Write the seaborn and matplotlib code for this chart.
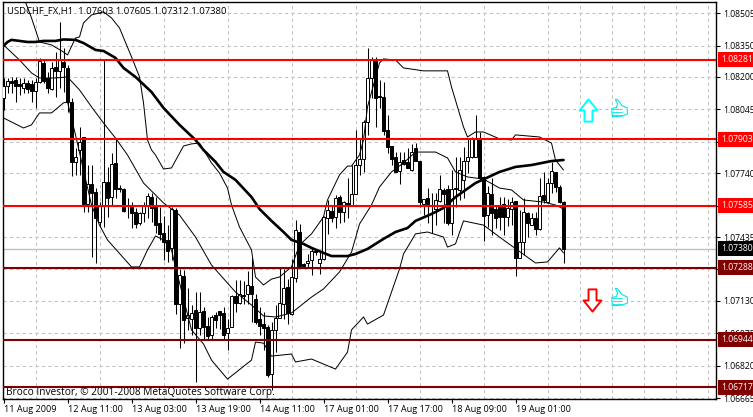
import numpy as np
import seaborn as sns
import matplotlib
matplotlib.use("Agg")
import matplotlib.pyplot as plt
from matplotlib.path import Path
from matplotlib.transforms import blended_transform_factory

# ------------------------------------------------------
# Data, quotes in points (1.08281 = 108281)
# ------------------------------------------------------
high_pts = [
    108195, 108195, 108200, 108200, 108195, 108195, 108186, 108186, 108195, 108291,
    108281, 108224, 108272, 108319, 108463, 108339, 108257, 108100, 107861, 107961,
    107913, 107779, 107779, 107669, 107602, 108281, 107770, 107837, 107904, 107684,
    107669, 107622, 107602, 107574, 107555, 107602, 107645, 107645, 107626, 107579,
    107535, 107492, 107579, 107574, 107282, 107277, 107191, 107110, 107172, 107172,
    107101, 107053, 107062, 107077, 107081, 107101, 107043, 107158, 107230, 107230,
    107225, 107273, 107335, 107163, 107101, 107077, 107015, 107029, 107110, 107292,
    107282, 107234, 107330, 107516, 107497, 107311, 107354, 107387, 107373, 107363,
    107535, 107612, 107588, 107636, 107636, 107607, 107717, 107779, 107947, 107908,
    107994, 108339, 108296, 108296, 108186, 108176, 108018, 107870, 107841, 107841,
    107841, 107861, 107880, 107884, 107798, 107617, 107669, 107645, 107645, 107732,
    107669, 107684, 107755, 107818, 107818, 107865, 107908, 107913, 108018, 107937,
    107727, 107679, 107717, 107588, 107626, 107626, 107617, 107626, 107607, 107564,
    107622, 107555, 107550, 107555, 107717, 107746, 107717, 107794, 107746, 107684, 107605]
open_pts = [
    108100, 108157, 108181, 108186, 108167, 108147, 108171, 108167, 108133, 108176,
    108267, 108195, 108143, 108248, 108229, 108272, 108243, 108080, 107794, 107851,
    107913, 107593, 107688, 107650, 107507, 107588, 107698, 107626, 107789, 107669,
    107665, 107588, 107579, 107555, 107502, 107550, 107583, 107626, 107583, 107502,
    107454, 107421, 107383, 107564, 107115, 107249, 107048, 107043, 107086, 107000,
    107081, 107010, 106967, 107062, 107081, 107072, 106976, 107005, 107153, 107120,
    107158, 107163, 107201, 107139, 107043, 107019, 107005, 106780, 106991, 107048,
    107115, 107196, 107067, 107239, 107459, 107306, 107311, 107325, 107368, 107311,
    107330, 107526, 107560, 107531, 107626, 107555, 107598, 107588, 107641, 107779,
    107808, 107985, 108195, 108281, 108109, 108104, 107947, 107870, 107818, 107751,
    107803, 107794, 107755, 107861, 107798, 107593, 107622, 107583, 107569, 107607,
    107660, 107665, 107502, 107669, 107660, 107708, 107798, 107818, 107818, 107904,
    107722, 107540, 107641, 107569, 107588, 107593, 107531, 107569, 107607, 107335,
    107411, 107550, 107492, 107526, 107473, 107636, 107602, 107693, 107746, 107674, 107603]
close_pts = [
    108157, 108181, 108171, 108157, 108157, 108171, 108143, 108133, 108176, 108276,
    108181, 108147, 108243, 108229, 108281, 108248, 108080, 107794, 107818, 107889,
    107593, 107688, 107645, 107526, 107588, 107698, 107622, 107784, 107665, 107665,
    107560, 107583, 107550, 107497, 107550, 107583, 107631, 107574, 107492, 107450,
    107411, 107368, 107569, 107115, 107254, 107038, 107062, 107072, 107000, 107077,
    107005, 106962, 107053, 107038, 107062, 106967, 107000, 107153, 107120, 107163,
    107153, 107206, 107163, 107029, 107010, 107000, 106776, 106991, 107048, 107120,
    107191, 107072, 107244, 107469, 107297, 107297, 107320, 107368, 107363, 107330,
    107531, 107564, 107526, 107622, 107555, 107602, 107583, 107641, 107779, 107808,
    107985, 108195, 108281, 108100, 108104, 107942, 107865, 107808, 107746, 107794,
    107784, 107765, 107841, 107798, 107602, 107617, 107593, 107588, 107612, 107665,
    107641, 107502, 107665, 107665, 107755, 107798, 107818, 107908, 107908, 107717,
    107535, 107645, 107550, 107526, 107531, 107531, 107574, 107602, 107335, 107411,
    107555, 107502, 107526, 107473, 107631, 107612, 107693, 107751, 107674, 107602, 107380]
low_pts = [
    108042, 108123, 108123, 108080, 108114, 108123, 108123, 108080, 108052, 108171,
    108171, 108123, 108138, 108104, 108147, 108128, 108033, 107727, 107732, 107732,
    107555, 107555, 107340, 107311, 107483, 107483, 107531, 107588, 107622, 107650,
    107555, 107526, 107478, 107478, 107492, 107507, 107526, 107507, 107454, 107421,
    107325, 107316, 107325, 107067, 106905, 106928, 106991, 106967, 106742, 106967,
    106948, 106948, 106943, 107000, 106995, 106943, 106895, 107005, 107077, 107115,
    107115, 107115, 107029, 107019, 106967, 106895, 106766, 106704, 106885, 107048,
    107043, 107019, 107062, 107220, 107292, 107292, 107292, 107254, 107349, 107258,
    107325, 107450, 107507, 107478, 107502, 107507, 107526, 107588, 107641, 107732,
    107746, 107923, 108100, 107961, 108052, 107923, 107837, 107779, 107746, 107688,
    107779, 107765, 107751, 107798, 107579, 107540, 107502, 107454, 107492, 107602,
    107502, 107492, 107445, 107579, 107612, 107622, 107741, 107813, 107818, 107708,
    107416, 107483, 107445, 107478, 107469, 107445, 107488, 107492, 107249, 107335,
    107349, 107435, 107492, 107445, 107469, 107598, 107598, 107645, 107650, 107598, 107312]

# moving average, sampled at the bars where it bends
ma_bars = [0, 1, 2, 4, 6, 8, 10, 13, 15, 18, 20, 23, 25, 28, 30, 33, 37, 40, 44, 48, 50, 53, 55, 58,
           62, 64, 67, 70, 72, 75, 77, 80, 82, 86, 88, 91, 95, 98, 101, 103, 107, 110, 113, 118,
           124, 128, 132, 137, 140]
ma_pts = [108348, 108367, 108377, 108372, 108367, 108367, 108372, 108372, 108379, 108377, 108362,
          108329, 108324, 108291, 108243, 108200, 108128, 108052, 107971, 107899, 107851, 107794,
          107746, 107708, 107626, 107569, 107512, 107459, 107421, 107402, 107383, 107359, 107344,
          107344, 107354, 107378, 107426, 107459, 107478, 107512, 107545, 107574, 107626, 107693,
          107746, 107770, 107779, 107798, 107803]

# Bollinger bands
upper_bars = [5, 7, 9, 12, 15, 16, 18, 19, 20, 22, 25, 27, 29, 32, 34, 35, 36, 37, 38, 40, 42, 45, 47,
              49, 52, 54, 56, 57, 59, 62, 63, 65, 67, 69, 72, 74, 77, 80, 81, 84, 86, 87, 89, 90, 91,
              94, 95, 98, 100, 105, 111, 112, 115, 116, 118, 120, 124, 127, 128, 134, 137, 138, 140]
upper_pts = [108582, 108482, 108367, 108353, 108319, 108305, 108386, 108391, 108458, 108496, 108511,
             108482, 108434, 108296, 108200, 108076, 107899, 107851, 107827, 107760, 107765, 107870,
             107880, 107884, 107789, 107741, 107669, 107588, 107483, 107373, 107244, 107206, 107234,
             107244, 107292, 107397, 107450, 107531, 107612, 107732, 107774, 107774, 107827, 107899,
             108057, 108267, 108286, 108281, 108243, 108229, 108229, 108152, 107961, 107913, 107937,
             107937, 107904, 107899, 107923, 107913, 107884, 107803, 107755]
middle_bars = [0, 4, 7, 9, 13, 16, 19, 22, 25, 28, 31, 35, 40, 44, 48, 52, 58, 62, 65, 68, 72, 77, 80,
               84, 87, 89, 92, 94, 97, 100, 103, 108, 111, 113, 116, 120, 124, 127, 130, 135, 138, 140]
middle_pts = [108353, 108281, 108219, 108195, 108195, 108200, 108138, 108057, 107980, 107908, 107827,
              107693, 107598, 107540, 107435, 107301, 107172, 107110, 107058, 107053, 107072, 107148,
              107187, 107268, 107363, 107497, 107588, 107674, 107746, 107789, 107841, 107841, 107813,
              107746, 107722, 107712, 107669, 107660, 107612, 107602, 107588, 107569]
lower_bars = [0, 5, 7, 9, 12, 15, 16, 18, 20, 22, 24, 26, 32, 34, 36, 38, 40, 42, 43, 47, 50, 52, 56,
              62, 63, 65, 67, 72, 73, 77, 83, 86, 87, 90, 91, 95, 99, 100, 103, 106, 110, 111, 113,
              115, 120, 125, 133, 136, 139, 140]
lower_pts = [108004, 107956, 107971, 108028, 108028, 108076, 108080, 107923, 107755, 107588, 107492,
             107421, 107292, 107292, 107373, 107440, 107421, 107373, 107292, 106991, 106924, 106847,
             106756, 106847, 106933, 106928, 106866, 106876, 106838, 106852, 106804, 106885, 106991,
             107053, 107019, 107062, 107282, 107354, 107450, 107459, 107435, 107387, 107402, 107512,
             107492, 107421, 107311, 107316, 107383, 107359]

# horizontal levels
red_levels = [108281, 107903, 107585]
darkred_levels = [107288, 106944, 106717]
last_price = 107380
header_text = "USDCHF_FX,H1  1.07603 1.07605 1.07312 1.07380"
footer_text = "Broco Investor, \u00a9 2001-2008 MetaQuotes Software Corp."

# axis labels, the ones sitting under a price tag stay blank
y_ticks = [108505, 108350, 108200, 108045, 107890, 107740, 107585, 107435, 107280, 107130, 106975, 106820, 106665]
y_hidden = [107890, 107585, 107280]
x_tick_bars = [0, 16, 32, 48, 64, 80, 96, 112, 128]
x_tick_labels = ["11 Aug 2009", "12 Aug 11:00", "13 Aug 03:00", "13 Aug 19:00", "14 Aug 11:00",
                 "17 Aug 01:00", "17 Aug 17:00", "18 Aug 09:00", "19 Aug 01:00"]

# ------------------------------------------------------
# Setup
# ------------------------------------------------------
sns.set_theme(style="white")
plt.rcParams["font.family"] = ["Open Sans", "DejaVu Sans"]
X_SIZE = 6.6
Y_SIZE = 6.2
HEADER_SIZE = 6.8
FOOTER_SIZE = 7.3

fig = plt.figure(figsize=(7.53, 4.17), dpi=100)
ax = fig.add_axes([2.5 / 753, 1 - 399 / 417, 713 / 753, 397 / 417])
ax.set_xlim(-0.25, 178)
ax.set_ylim(1.06661, 1.08558)


def px(values):
    return np.array(values) / 100000


# ------------------------------------------------------
# Candles
# ------------------------------------------------------
bars = np.arange(len(close_pts))
o, h, l, c = px(open_pts), px(high_pts), px(low_pts), px(close_pts)
ax.vlines(bars, l, h, color="black", lw=0.75, zorder=3)
is_up = c >= o
ax.bar(bars[is_up], (c - o)[is_up], bottom=o[is_up], width=0.62, facecolor="white",
       edgecolor="black", linewidth=0.7, zorder=4)
ax.bar(bars[~is_up], (o - c)[~is_up], bottom=c[~is_up], width=0.62, facecolor="black",
       edgecolor="black", linewidth=0.7, zorder=4)

# ------------------------------------------------------
# Indicators
# ------------------------------------------------------
for xs, ys in [(upper_bars, upper_pts), (middle_bars, middle_pts), (lower_bars, lower_pts)]:
    sns.lineplot(x=xs, y=px(ys), ax=ax, color="black", linewidth=0.72, estimator=None,
                 sort=False, zorder=5)
sns.lineplot(x=ma_bars, y=px(ma_pts), ax=ax, color="black", linewidth=1.9, estimator=None,
             sort=False, zorder=6)

# ------------------------------------------------------
# Levels and price tags
# ------------------------------------------------------
tag_pos = blended_transform_factory(ax.transAxes, ax.transData)
ax.axhline(px(last_price), color="#c0c0c0", lw=1.0, zorder=2)
for lev in red_levels:
    ax.axhline(px(lev), color="#ff0000", lw=1.5, zorder=7)
for lev in darkred_levels:
    ax.axhline(px(lev), color="#800000", lw=1.5, zorder=7)


def price_tag(lev, color):
    ax.text(1.0082, px(lev), f"{lev / 100000:.5f}", transform=tag_pos, color="white", fontsize=Y_SIZE,
            va="center", ha="left", zorder=20, clip_on=False,
            bbox=dict(boxstyle="square,pad=0.35", facecolor=color, edgecolor="none"))


for lev in red_levels:
    price_tag(lev, "#ff0000")
for lev in darkred_levels:
    price_tag(lev, "#800000")
price_tag(last_price, "black")

# ------------------------------------------------------
# Signal arrows and thumbs
# ------------------------------------------------------
up_arrow = Path([(-0.36, -1), (-0.36, 0), (-0.8, 0), (0, 1), (0.8, 0), (0.36, 0), (0.36, -1), (-0.36, -1)], closed=True)
down_arrow = Path([(-0.36, 1), (-0.36, 0), (-0.8, 0), (0, -1), (0.8, 0), (0.36, 0), (0.36, 1), (-0.36, 1)], closed=True)
thumb = Path([(-0.8, -0.9), (-0.85, 0.0), (-0.35, 0.1), (-0.2, 0.5), (-0.45, 1.0), (-0.25, 1.0), (0.25, 0.35),
              (0.85, 0.05), (0.9, -0.6), (0.3, -0.85), (-0.8, -0.9)], closed=True)
ax.plot([146], [px(108042)], marker=up_arrow, ms=16, mfc="white", mec="#00ffff", mew=1.4, zorder=8)
ax.plot([147], [px(107134)], marker=down_arrow, ms=16, mfc="white", mec="#ff0000", mew=1.4, zorder=8)
for y_val in [108052, 107148]:
    ax.plot([153.8], [px(y_val)], marker=thumb, ms=13, mfc="white", mec="#00e8e8", mew=0.8, zorder=8)
    for drop in [6, 20, 34]:
        ax.plot([152.2, 154.6], [px(y_val - drop), px(y_val - drop)], color="#00e8e8", lw=0.6, zorder=9)

# ------------------------------------------------------
# Axes, grid and texts
# ------------------------------------------------------
ax.yaxis.tick_right()
ax.set_yticks(px(y_ticks))
ax.set_yticklabels(["" if t in y_hidden else f"{t / 100000:.5f}" for t in y_ticks],
                   fontsize=Y_SIZE, color="black")
ax.set_xticks(x_tick_bars)
ax.set_xticks(np.arange(0, 178, 8), minor=True)
ax.set_xticklabels(x_tick_labels, fontsize=X_SIZE, color="black", ha="left")
ax.tick_params(axis="y", which="major", right=True, length=3, width=0.8, pad=2.5, color="black")
ax.tick_params(axis="x", which="major", bottom=True, length=3, width=0.8, pad=1.5, color="black")
ax.tick_params(axis="x", which="minor", bottom=False)
ax.grid(True, axis="y", which="major", color="#c0c0c0", ls=(0, (3.2, 3.2)), lw=0.72, zorder=1)
ax.grid(True, axis="x", which="minor", color="#c0c0c0", ls=(0, (3.2, 3.2)), lw=0.72, zorder=1)
ax.set_axisbelow(True)
for spine in ax.spines.values():
    spine.set_color("black")
    spine.set_linewidth(1.0)
ax.set_xlabel("")
ax.set_ylabel("")

ax.text(4.5 / 713, 1 - 8.5 / 397, header_text, transform=ax.transAxes, fontsize=HEADER_SIZE, color="black",
        va="center", ha="left", zorder=12)
ax.text(4 / 713, 1 - 390 / 397, footer_text, transform=ax.transAxes, fontsize=FOOTER_SIZE, color="black",
        va="center", ha="left", zorder=12)

fig.savefig("out.png", dpi=100)
